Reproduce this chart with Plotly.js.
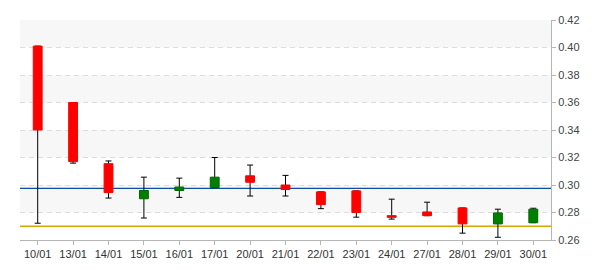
<!DOCTYPE html>
<html>
<head>
<meta charset="utf-8">
<script src="https://cdn.plot.ly/plotly-3.0.1.min.js"></script>
<style>html,body{margin:0;padding:0;background:#fff;}#chart{width:600px;height:270px;}</style>
</head>
<body>
<div id="chart"></div>
<script>
// ---- data ----
const dates = ["10/01","13/01","14/01","15/01","16/01","17/01","20/01","21/01","22/01","23/01","24/01","27/01","28/01","29/01","30/01"];
const openP  = [0.401, 0.360, 0.3155, 0.290, 0.296, 0.298, 0.3067, 0.300, 0.295, 0.2957, 0.2777, 0.2804, 0.2833, 0.2717, 0.2726];
const highP  = [0.401, 0.360, 0.3175, 0.3057, 0.305, 0.320, 0.3145, 0.307, 0.295, 0.2957, 0.2897, 0.2875, 0.2833, 0.2824, 0.2831];
const lowP   = [0.2722, 0.3159, 0.2905, 0.276, 0.291, 0.298, 0.292, 0.292, 0.2828, 0.2766, 0.2752, 0.2777, 0.265, 0.262, 0.2726];
const closeP = [0.340, 0.317, 0.2945, 0.296, 0.2985, 0.3057, 0.302, 0.2967, 0.2858, 0.280, 0.2765, 0.2777, 0.2717, 0.2797, 0.2824];
const blueLevel = 0.2976;
const goldLevel = 0.270;
const yTicks = [0.26, 0.28, 0.30, 0.32, 0.34, 0.36, 0.38, 0.40, 0.42];

// ---- derived ----
const bodyBase = openP.map((o, i) => Math.min(o, closeP[i]));
const bodyLen = openP.map((o, i) => Math.max(Math.abs(closeP[i] - o), 0.0004));
const up = openP.map((o, i) => closeP[i] >= o);
const bodyColor = up.map(u => u ? '#008000' : '#ff0000');
const bodyLine = up.map(u => u ? '#006400' : '#ff0000');

const wicks = {
  type: 'scatter', mode: 'markers', x: dates, y: highP,
  marker: {size: 1, color: 'rgba(0,0,0,0)'},
  error_y: {type: 'data', symmetric: false,
    array: highP.map(() => 0),
    arrayminus: highP.map((h, i) => h - lowP[i]),
    color: '#000', thickness: 1, width: 3},
  xaxis: 'x', yaxis: 'y', hoverinfo: 'skip', showlegend: false
};
const bodies = {
  type: 'bar', x: dates, y: bodyLen, base: bodyBase, width: 0.25,
  marker: {color: bodyColor, line: {color: bodyLine, width: 1}},
  xaxis: 'x', yaxis: 'y2', hoverinfo: 'skip', showlegend: false
};

// alternating bands
const shapes = [];
for (let i = 0; i < yTicks.length - 1; i++) {
  if ((yTicks.length - 2 - i) % 2 === 0) {
    shapes.push({type: 'rect', xref: 'paper', yref: 'y', x0: 0, x1: 1,
      y0: yTicks[i], y1: yTicks[i + 1], fillcolor: '#f7f7f7', line: {width: 0}, layer: 'below'});
  }
}
shapes.push({type: 'line', xref: 'paper', yref: 'y', x0: 0, x1: 1, y0: blueLevel, y1: blueLevel,
  line: {color: '#0b4ea2', width: 1.3}, layer: 'below'});
shapes.push({type: 'line', xref: 'paper', yref: 'y', x0: 0, x1: 1, y0: goldLevel, y1: goldLevel,
  line: {color: '#d4a600', width: 1.3}, layer: 'below'});

const yRange = [yTicks[0], yTicks[yTicks.length - 1]];
const layout = {
  width: 600, height: 270,
  margin: {l: 20, r: 49, t: 20, b: 30},
  paper_bgcolor: '#fff', plot_bgcolor: '#fff',
  font: {family: 'Liberation Sans, Arial, sans-serif', size: 11, color: '#444'},
  showlegend: false,
  bargap: 0,
  xaxis: {type: 'category', categoryorder: 'array', categoryarray: dates,
    range: [-0.5, dates.length - 0.5], showgrid: false, zeroline: false,
    showline: true, linecolor: '#b5b5b5', linewidth: 1,
    ticks: 'outside', ticklen: 4, tickcolor: '#b5b5b5',
    tickfont: {size: 11, color: '#333'}, fixedrange: true},
  yaxis: {side: 'right', range: yRange, tickvals: yTicks, tickformat: '.2f',
    showgrid: true, gridcolor: '#dddddd', griddash: '5px,4px', zeroline: false,
    showline: true, linecolor: '#b5b5b5', linewidth: 1,
    ticks: 'outside', ticklen: 4, tickcolor: '#b5b5b5',
    tickfont: {size: 11, color: '#444'}, fixedrange: true},
  yaxis2: {overlaying: 'y', side: 'right', range: yRange, visible: false,
    showgrid: false, zeroline: false, fixedrange: true},
  shapes: shapes
};

Plotly.newPlot('chart', [wicks, bodies], layout, {displayModeBar: false, staticPlot: true});
</script>
</body>
</html>
